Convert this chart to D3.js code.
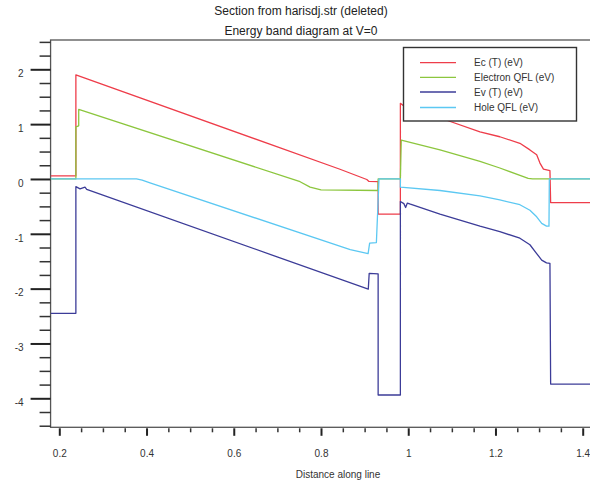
<!DOCTYPE html>
<html><head><meta charset="utf-8">
<script src="https://cdn.jsdelivr.net/npm/d3@7/dist/d3.min.js"></script>
<style>body{margin:0;background:#fff}svg{display:block;font-family:"Liberation Sans",Arial,Helvetica,sans-serif}</style>
</head><body><svg id="c" width="590" height="483"></svg>
<script>
const titles = ["Section from harisdj.str (deleted)", "Energy band diagram at V=0"];
const xLabel = "Distance along line";
const seriesNames = ["Ec (T) (eV)", "Electron QFL (eV)", "Ev (T) (eV)", "Hole QFL (eV)"];
const seriesColors = ["#ee3d4a", "#8cc63e", "#3c3c98", "#5cc8f2"];
const xMajorTicks = [0.2, 0.4, 0.6, 0.8, 1, 1.2, 1.4];
const xTickLabels = ["0.2", "0.4", "0.6", "0.8", "1", "1.2", "1.4"];
const yMajorTicks = [-4, -3, -2, -1, 0, 1, 2];
const yTickLabels = ["-4", "-3", "-2", "-1", "0", "1", "2"];

const ecPoints = [[0.18,0.055],[0.238,0.055],[0.238,1.90],[0.8435,0.177],[0.905,-0.01],[0.91,-0.045],[0.931,-0.05],[0.931,-0.64],[0.982,-0.64],[0.982,1.38],[0.99,1.33],[1.085,1.08],[1.1645,0.86],[1.21,0.77],[1.256,0.65],[1.279,0.53],[1.2945,0.44],[1.302,0.29],[1.31,0.18],[1.3249,0.15],[1.3265,-0.43],[1.42,-0.43]];
const efnPoints = [[0.18,0],[0.238,0],[0.238,0.95],[0.2445,0.97],[0.2445,1.27],[0.752,-0.05],[0.775,-0.15],[0.80,-0.2],[0.931,-0.21],[0.931,0],[0.982,0],[0.984,0.71],[1.0728,0.53],[1.1645,0.32],[1.21,0.20],[1.275,0.01],[1.285,0],[1.42,0]];
const evPoints = [[0.18,-2.45],[0.238,-2.45],[0.238,-0.14],[0.2475,-0.18],[0.2589,-0.15],[0.2628,-0.19],[0.9084,-2.01],[0.9105,-1.72],[0.931,-1.73],[0.931,-3.94],[0.982,-3.94],[0.982,-0.41],[0.99,-0.45],[0.994,-0.52],[0.998,-0.44],[1.005,-0.46],[1.0728,-0.64],[1.1645,-0.86],[1.21,-0.96],[1.256,-1.08],[1.279,-1.20],[1.2945,-1.36],[1.306,-1.48],[1.317,-1.53],[1.3249,-1.54],[1.3265,-3.74],[1.42,-3.74]];
const efpPoints = [[0.18,0],[0.377,0],[0.39,-0.02],[0.408,-0.07],[0.867,-1.29],[0.908,-1.36],[0.9115,-1.17],[0.927,-1.16],[0.933,0],[0.982,0],[0.982,-0.15],[1.0728,-0.21],[1.1645,-0.31],[1.21,-0.38],[1.256,-0.47],[1.279,-0.57],[1.2945,-0.69],[1.306,-0.81],[1.317,-0.86],[1.3227,-0.86],[1.3235,0],[1.42,0]];
const allSeries = [ecPoints, efnPoints, evPoints, efpPoints];

const svg = d3.select("#c");
const x = d3.scaleLinear().domain([0.2, 1.4]).range([59.3, 582.7]);
const y = d3.scaleLinear().domain([-4, 2]).range([398.3, 69.3]);
const pLeft = x(0.18), pRight = x(1.42), pTop = 40, pBottom = 427.3;

// titles
svg.selectAll("text.title").data(titles).join("text").attr("class","title")
  .attr("x", 301).attr("y", (d,i)=> i===0 ? 14.5 : 34.5)
  .attr("text-anchor","middle").attr("font-size", 12).attr("fill","#222").text(d=>d);

svg.append("defs").append("clipPath").attr("id","clip").append("rect")
  .attr("x", pLeft).attr("y", pTop).attr("width", pRight-pLeft).attr("height", pBottom-pTop);

// frame
svg.append("rect").attr("x", pLeft).attr("y", pTop).attr("width", pRight-pLeft).attr("height", pBottom-pTop)
  .attr("fill","none").attr("stroke","#555").attr("stroke-width",1.3);

// y axis
const yMinor = d3.range(-4.5, 2.51, 0.25).filter(v => Math.abs(v - Math.round(v)) > 1e-6);
const gy = svg.append("g").attr("transform", `translate(${pLeft},0)`);
gy.call(d3.axisLeft(y).tickValues(yMinor).tickSize(11).tickFormat(""))
  .call(g=>g.select(".domain").remove())
  .call(g=>g.selectAll("line").attr("stroke","#333").attr("stroke-width",1.5));
const gy2 = svg.append("g").attr("transform", `translate(${pLeft},0)`);
gy2.call(d3.axisLeft(y).tickValues(yMajorTicks).tickSize(20).tickPadding(7).tickFormat((d,i)=>yTickLabels[i]))
  .call(g=>g.select(".domain").remove())
  .call(g=>g.selectAll("line").attr("stroke","#222").attr("stroke-width",2))
  .call(g=>g.selectAll("text").attr("font-size",10).attr("fill","#333").attr("dy","0.72em").attr("font-family",null));

// x axis
const xMinor = d3.range(0.2, 1.4001, 0.05).filter(v => Math.abs(v*5 - Math.round(v*5)) > 1e-6);
const gx = svg.append("g").attr("transform", `translate(0,${pBottom+1})`);
gx.call(d3.axisBottom(x).tickValues(xMinor).tickSize(4).tickFormat(""))
  .call(g=>g.select(".domain").remove())
  .call(g=>g.selectAll("line").attr("stroke","#333").attr("stroke-width",1.5));
const gx2 = svg.append("g").attr("transform", `translate(0,${pBottom+1})`);
gx2.call(d3.axisBottom(x).tickValues(xMajorTicks).tickSize(7.5).tickPadding(14).tickFormat((d,i)=>xTickLabels[i]))
  .call(g=>g.select(".domain").remove())
  .call(g=>g.selectAll("line").attr("stroke","#222").attr("stroke-width",2))
  .call(g=>g.selectAll("text").attr("font-size",10).attr("fill","#333").attr("font-family",null));

svg.append("text").attr("x", 338).attr("y", 478).attr("text-anchor","middle")
  .attr("font-size",10).attr("fill","#333").text(xLabel);

// curves
const line = d3.line().x(d=>x(d[0])).y(d=>y(d[1]));
svg.append("g").attr("clip-path","url(#clip)").selectAll("path").data(allSeries).join("path")
  .attr("d", line).attr("fill","none").attr("stroke",(d,i)=>seriesColors[i]).attr("stroke-width",1.3)
  .attr("stroke-linejoin","round");

// legend
const lg = svg.append("g");
lg.append("rect").attr("x",403.5).attr("y",47.5).attr("width",173).attr("height",73.5)
  .attr("fill","#fff").attr("stroke","#333").attr("stroke-width",1.4);
const rowY = [62.7, 77.3, 92, 107.5];
seriesNames.forEach((n,i)=>{
  lg.append("line").attr("x1",420).attr("x2",456).attr("y1",rowY[i]).attr("y2",rowY[i])
    .attr("stroke",seriesColors[i]).attr("stroke-width",1.3);
  lg.append("text").attr("x",474).attr("y",rowY[i]+3.5).attr("font-size",10).attr("fill","#333").text(n);
});
</script></body></html>
